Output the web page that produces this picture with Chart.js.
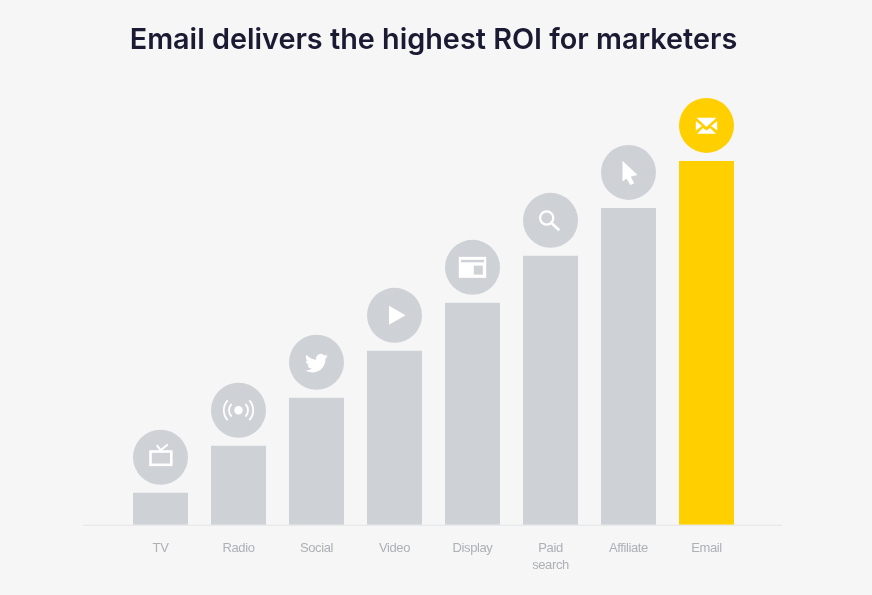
<!DOCTYPE html>
<html>
<head>
<meta charset="utf-8">
<style>
html,body{margin:0;padding:0;background:#f6f6f6;}
canvas{display:block;}
</style>
<script src="https://cdn.jsdelivr.net/npm/chart.js@4"></script>
</head>
<body>
<canvas id="c" width="872" height="595" style="width:872px;height:595px"></canvas>
<script>
const categories = ["TV","Radio","Social","Video","Display",["Paid","search"],"Affiliate","Email"];
const roiValues = [32,79,127,174,222,269,317,364];
const barColors = ["#ced1d6","#ced1d6","#ced1d6","#ced1d6","#ced1d6","#ced1d6","#ced1d6","#ffcf00"];
const chartTitle = "Email delivers the highest ROI for marketers";

const WHITE = "#ffffff", GREY = "#ced1d6";
const bird = new Path2D("M23.953 4.57a10 10 0 01-2.825.775 4.958 4.958 0 002.163-2.723c-.951.555-2.005.959-3.127 1.184a4.92 4.92 0 00-8.384 4.482C7.69 8.095 4.067 6.13 1.64 3.162a4.822 4.822 0 00-.666 2.475c0 1.71.87 3.213 2.188 4.096a4.904 4.904 0 01-2.228-.616v.06a4.923 4.923 0 003.946 4.827 4.996 4.996 0 01-2.212.085 4.936 4.936 0 004.604 3.417 9.867 9.867 0 01-6.102 2.105c-.39 0-.779-.023-1.17-.067a13.995 13.995 0 007.557 2.209c9.053 0 13.998-7.496 13.998-13.985 0-.21 0-.42-.015-.63A9.935 9.935 0 0024 4.59z");
function poly(c, pts){ c.beginPath(); pts.forEach((p,i)=> i?c.lineTo(p[0],p[1]):c.moveTo(p[0],p[1])); c.closePath(); c.fill(); }
const icons = [
  c => { c.lineWidth=2.6; c.strokeRect(-10,-5.7,20.8,13.3);
         c.lineWidth=2; c.beginPath(); c.moveTo(-3.7,-12); c.lineTo(0,-7); c.lineTo(7.3,-12.7); c.stroke(); },
  c => { c.beginPath(); c.arc(0,0,4.2,0,Math.PI*2); c.fill(); c.lineWidth=1.8;
         [[9.5,0.75],[14.7,0.74]].forEach(([r,a])=>{
           c.beginPath(); c.arc(0,0,r,-a,a); c.stroke();
           c.beginPath(); c.arc(0,0,r,Math.PI-a,Math.PI+a); c.stroke(); }); },
  c => { c.save(); c.translate(-11.5,-10.5); c.scale(0.95,0.95); c.fill(bird); c.restore(); },
  c => { poly(c,[[-5.5,-9.5],[11,0],[-5.5,9.5]]); },
  c => { c.fillRect(-13.7,-10.5,27.4,21); c.fillStyle=GREY;
         c.fillRect(-11.5,-7.5,23,2.5); c.fillRect(1.3,-1.7,9,9); },
  c => { c.lineWidth=2.3; c.beginPath(); c.arc(-3.8,-2.4,6.6,0,Math.PI*2); c.stroke();
         c.lineWidth=2.8; c.beginPath(); c.moveTo(1.2,2.8); c.lineTo(8.8,9.8); c.stroke(); },
  c => { poly(c,[[-6,-11.7],[9,2.7],[2.3,4],[5.7,11],[1.7,12.7],[-2,6],[-6,9]]); },
  c => { poly(c,[[-10,-7.7],[10,-7.7],[0,1.5]]);
         poly(c,[[-10.7,-4.5],[-4.5,0.7],[-10.7,5]]);
         poly(c,[[10.7,-4.5],[4.5,0.7],[10.7,5]]);
         poly(c,[[-9.5,8.3],[-3.5,2.7],[0,5],[3.5,2.7],[9.5,8.3]]); }
];

const decorations = {
  id:"decorations",
  afterLayout(chart){
    const s = chart.scales.x;
    if (s.__tight) return;
    const drawLabels = s.drawLabels;
    s.drawLabels = function(area){
      chart.ctx.letterSpacing = "-0.4px";
      drawLabels.call(this, area);
      chart.ctx.letterSpacing = "0px";
    };
    s.__tight = true;
  },
  beforeDatasetsDraw(chart){
    const c = chart.ctx, a = chart.chartArea;
    c.save(); c.strokeStyle="#e3e4e6"; c.lineWidth=1;
    c.beginPath(); c.moveTo(a.left-38.5,a.bottom+0.5); c.lineTo(a.right+36.5,a.bottom+0.5); c.stroke();
    c.restore();
  },
  afterDatasetsDraw(chart){
    const c = chart.ctx;
    chart.getDatasetMeta(0).data.forEach((bar,i)=>{
      c.save();
      c.translate(bar.x, bar.y-35.5);
      c.fillStyle = barColors[i];
      c.beginPath(); c.arc(0,0,27.5,0,Math.PI*2); c.fill();
      c.fillStyle = WHITE; c.strokeStyle = WHITE; c.lineCap="butt";
      icons[i](c);
      c.restore();
    });
  }
};

new Chart(document.getElementById("c"),{
  type:"bar",
  data:{labels:categories,datasets:[{
    data:roiValues, backgroundColor:barColors, borderWidth:0,
    barPercentage:55/78, categoryPercentage:1
  }]},
  options:{
    responsive:false, animation:false, devicePixelRatio:1,
    layout:{padding:{left:121.5,right:126.5,top:0,bottom:6.5}},
    plugins:{
      legend:{display:false}, tooltip:{enabled:false},
      title:{display:true,text:chartTitle,color:"#1a1b33",
        font:{family:"Inter",size:28.8,weight:"600",lineHeight:1.2},
        padding:{top:23,bottom:27.4}}
    },
    scales:{
      x:{grid:{display:false,drawTicks:false},border:{display:false},
         ticks:{color:"#adb0b5",font:{family:"Liberation Sans",size:13,lineHeight:1.3},padding:15,maxRotation:0,autoSkip:false}},
      y:{display:false,min:0,max:440}
    }
  },
  plugins:[decorations]
});
</script>
</body>
</html>
